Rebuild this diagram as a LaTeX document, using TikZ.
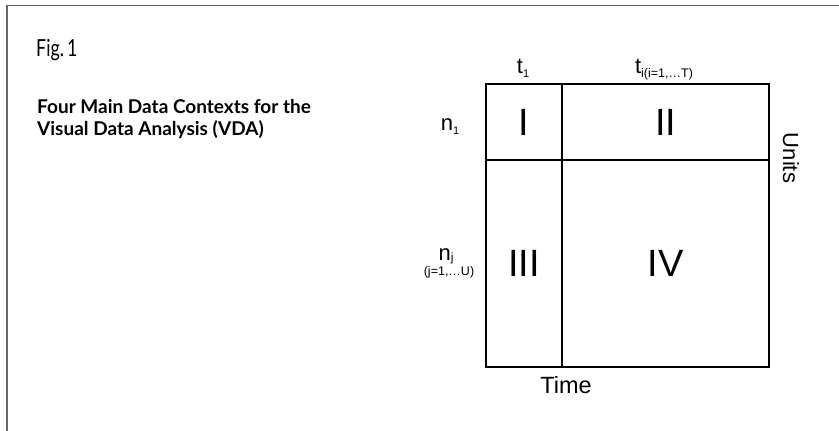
\documentclass[tikz,border=0pt]{standalone}
\usepackage{fontspec}
\setmainfont{Liberation Sans}
\newfontfamily\titlefont{Lato}
\newcommand{\fsz}[1]{\fontsize{#1}{#1}\selectfont}
\begin{document}
\begin{tikzpicture}[x=1pt,y=-1pt,
  cell/.style={draw=black,line width=2.4pt,inner sep=0pt,anchor=north west},
  numeral/.style={font=\fsz{38}},
  lab/.style={font=\fsz{22},inner sep=0pt},
  titleline/.style={anchor=base west,inner sep=0pt,font=\titlefont\bfseries\fsz{19}},
  frameline/.style={draw=black!60,line width=1.8pt}]
\useasboundingbox (0,0) rectangle (839,431);
% frame
\coordinate (fa) at (7,431);
\coordinate (fb) at (7,5.5);
\coordinate (fc) at (839,5.5);
\draw[frameline] (fa) -- (fb) -- (fc);
% title texts
\node[anchor=base west,inner sep=0pt,font=\titlefont\fsz{23.5}] (fig) at (36,56.5) {\scalebox{0.76}[1]{Fig.\,1}};
\node[titleline] (title1) at (37,113) {Four Main Data Contexts for the};
\node[titleline] (title2) at (37,135) {Visual Data Analysis (VDA)};
% grid
\node[cell,minimum width=76pt,minimum height=76pt] (c1) at (485,83) {};
\node[cell,minimum width=207pt,minimum height=76pt] (c2) at (561,83) {};
\node[cell,minimum width=76pt,minimum height=207pt] (c3) at (485,159) {};
\node[cell,minimum width=207pt,minimum height=207pt] (c4) at (561,159) {};
\node[numeral] (n1c) at (c1.center) {I};
\node[numeral] (n2c) at (c2.center) {II};
\node[numeral] (n3c) at (c3.center) {III};
\node[numeral] (n4c) at (c4.center) {IV};
% axis labels
\node[lab,anchor=base] (t1) at (523,73) {t\raisebox{-4pt}{\fsz{11}1}};
\node[lab,anchor=base] (ti) at (664,73) {t\raisebox{-4pt}{\fsz{12.5}i(i=1,\ldots T)}};
\node[lab,anchor=base] (nn1) at (450,130) {n\raisebox{-4pt}{\fsz{11}1}};
\node[lab,anchor=base] (nj) at (446,260) {n\raisebox{-1.5pt}{\fsz{12}j}};
\node[inner sep=0pt,anchor=base,font=\fsz{12.5}] (njs) at (449,275.5) {(j=1,\ldots U)};
\node[lab,anchor=base,rotate=-90] (units) at (783,158) {Units};
\node[lab,anchor=base,font=\fsz{23.5}] (time) at (566,393) {Time};
\end{tikzpicture}
\end{document}
